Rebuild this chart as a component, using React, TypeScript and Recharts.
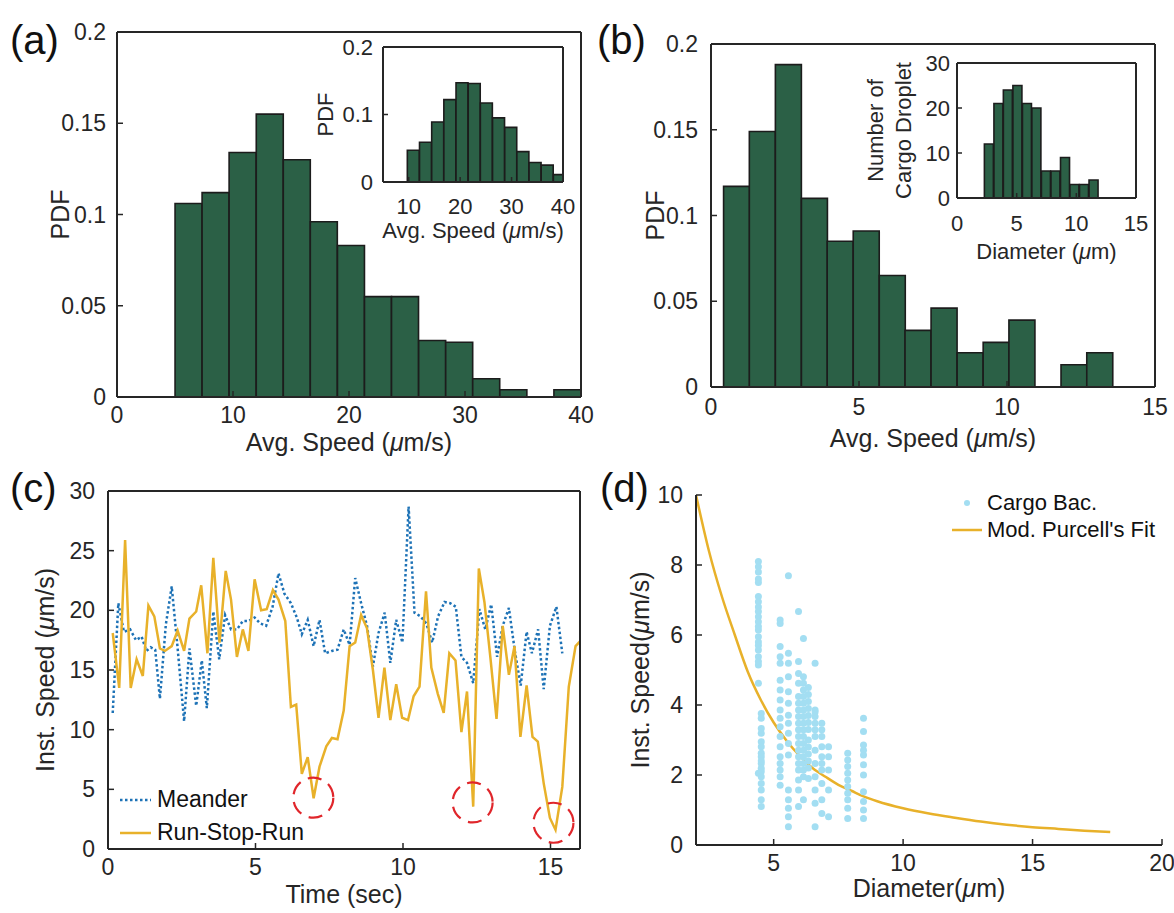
import React from "react";
import {
  BarChart,
  Bar,
  LineChart,
  Line,
  ComposedChart,
  Scatter,
  XAxis,
  YAxis,
  ReferenceDot,
  Legend
} from "recharts";

const FONT = '"Liberation Sans", Arial, Helvetica, sans-serif';
const INK = "#262626";
const BAR_FILL = "#2b6046";
const BAR_EDGE = "#1c1c1c";
const BLUE = "#1d72b6";
const GOLD = "#e8b12a";
const CYAN = "#a3def2";
const RED = "#e0262b";

// (a) avg speed histogram, bin centres + pdf
const speedBinsA = [6.17, 8.5, 10.83, 13.17, 15.5, 17.83, 20.17, 22.5, 24.83, 27.17, 29.5, 31.83, 34.17, 38.83];
const speedPdfA = [0.106, 0.112, 0.134, 0.155, 0.13, 0.096, 0.083, 0.055, 0.055, 0.031, 0.03, 0.01, 0.004, 0.004];

// (a) inset
const insetBinsA = [10.91, 13.28, 15.65, 18.01, 20.38, 22.75, 25.11, 27.48, 29.85, 32.21, 34.58, 36.94, 39.31];
const insetPdfA = [0.047, 0.059, 0.089, 0.122, 0.147, 0.146, 0.117, 0.095, 0.081, 0.045, 0.029, 0.025, 0.011];

// (b) avg speed histogram
const speedBinsB = [0.86, 1.73, 2.61, 3.49, 4.36, 5.24, 6.12, 6.99, 7.87, 8.75, 9.63, 10.5, 12.26, 13.13];
const speedPdfB = [0.117, 0.149, 0.188, 0.11, 0.085, 0.091, 0.065, 0.033, 0.046, 0.02, 0.026, 0.039, 0.013, 0.02];

// (b) inset: droplet diameters
const diamBinsB = [2.69, 3.49, 4.28, 5.08, 5.88, 6.67, 7.47, 8.27, 9.07, 9.86, 10.66, 11.46];
const dropletCountB = [12, 21, 24, 25, 21, 20, 6, 6, 9, 3, 3, 4];

// (c) instantaneous speed traces
const meanderTime = [
  0.16, 0.35, 0.54, 0.75, 0.95, 1.14, 1.3, 1.45, 1.6, 1.76, 1.96, 2.16, 2.35, 2.58, 2.76, 2.99, 3.18, 3.35, 3.57, 3.77,
  3.97, 4.17, 4.37, 4.57, 4.76, 4.97, 5.16, 5.36, 5.58, 5.78, 5.98, 6.2, 6.4, 6.57, 6.77, 6.97, 7.17, 7.36, 7.59, 7.78,
  7.99, 8.19, 8.38, 8.58, 8.78, 8.98, 9.17, 9.38, 9.57, 9.77, 9.98, 10.19, 10.39, 10.59, 10.79, 10.99, 11.19, 11.41,
  11.6, 11.79, 11.98, 12.17, 12.38, 12.59, 12.79, 12.99, 13.19, 13.38, 13.59, 13.79, 13.99, 14.19, 14.37, 14.58, 14.77,
  14.98, 15.2, 15.4
];
const meanderSpeed = [
  11.4, 20.6, 18.2, 18.4, 17.5, 17.8, 16.6, 16.9, 16.7, 12.6, 18.8, 22.0, 17.1, 10.7, 16.8, 12.0, 15.8, 11.8, 19.9, 15.9,
  19.6, 18.4, 18.4, 19.1, 19.1, 19.4, 18.9, 18.7, 20.3, 23.1, 21.4, 20.6, 19.4, 18.0, 19.2, 17.0, 19.2, 16.4, 16.6, 16.7,
  18.4, 17.1, 22.7, 20.6, 18.7, 15.3, 18.1, 19.8, 15.6, 19.2, 17.3, 28.7, 19.8, 19.5, 18.9, 17.3, 19.5, 20.7,
  20.6, 20.3, 16.1, 15.6, 13.9, 20.1, 18.4, 20.5, 16.1, 18.7, 20.2, 16.6, 13.7, 18.2, 16.4, 18.4, 13.4,
  18.7, 20.3, 16.4
];
const rsrTime = [
  0.16, 0.38, 0.58, 0.77, 0.97, 1.18, 1.37, 1.57, 1.76, 1.93, 2.16, 2.36, 2.58, 2.76, 2.99, 3.16, 3.37, 3.57, 3.78, 3.99,
  4.17, 4.37, 4.57, 4.76, 4.97, 5.19, 5.38, 5.59, 5.78, 6.01, 6.2, 6.38, 6.57, 6.77, 6.97, 7.17, 7.4, 7.59, 7.78, 7.99,
  8.19, 8.38, 8.58, 8.78, 8.98, 9.17, 9.37, 9.57, 9.77, 9.97, 10.17, 10.36, 10.56, 10.78, 10.96, 11.18, 11.38, 11.57,
  11.78, 11.98, 12.17, 12.38, 12.57, 12.76, 12.96, 13.17, 13.38, 13.59, 13.78, 13.98, 14.19, 14.39, 14.57, 14.77, 14.98,
  15.17, 15.4, 15.62, 15.85, 16.0
];
const rsrSpeed = [
  18.1, 13.5, 25.9, 13.5, 15.9, 14.5, 20.4, 19.5, 16.8, 16.6, 17.0, 18.3, 16.6, 19.3, 19.9, 22.1, 16.4, 24.4, 17.3, 23.3,
  20.9, 16.1, 18.4, 16.6, 22.6, 20.0, 20.1, 21.7, 20.9, 19.1, 11.9, 12.1, 6.3, 7.7, 4.25, 6.9, 8.6, 9.3, 9.2, 11.6,
  17.0, 17.3, 19.6, 18.5, 15.0, 11.0, 15.2, 10.8, 13.8, 11.0, 10.8, 12.8, 13.6, 21.6, 15.2, 13.0, 11.4, 16.4,
  15.8, 9.8, 13.2, 3.55, 23.5, 20.7, 16.1, 10.9, 18.7, 14.6, 17.0, 9.4, 13.7, 9.4, 9.0, 5.5, 2.6,
  1.6, 5.2, 13.6, 17.0, 17.4
];
// stop events (dashed circles)
const stopTime = [6.96, 12.36, 15.1];
const stopSpeed = [4.3, 3.9, 2.2];

// (d) cargo bacteria: diameter columns and speeds measured in each
const cargoDiameter = [4.41, 4.52, 5.25, 5.57, 5.96, 6.15, 6.34, 6.6, 6.86, 7.12, 7.86, 8.47];
const cargoSpeed = [
  [8.1, 7.95, 7.8, 7.6, 7.5, 7.1, 6.95, 6.8, 6.67, 6.52, 6.38, 6.24, 6.14, 5.95, 5.8, 5.7, 5.57, 5.38, 5.24, 5.14, 4.62, 2.05],
  [3.76, 3.62, 3.33, 3.19, 2.95, 2.81, 2.62, 2.52, 2.33, 2.19, 2.1, 1.95, 1.76, 1.57, 1.29, 1.1, 2.4],
  [6.43, 6.33, 5.67, 5.38, 5.19, 4.71, 4.43, 4.14, 3.86, 3.62, 3.38, 3.1, 2.81, 2.52, 2.33, 2.14, 1.95, 1.71],
  [7.69, 5.48, 5.19, 4.81, 4.38, 4.05, 3.71, 3.48, 3.19, 2.9, 2.57, 1.57, 1.29, 1.05, 0.81, 0.52],
  [6.67, 5.24, 4.9, 4.62, 4.24, 4.05, 3.86, 3.67, 3.48, 3.29, 3.1, 2.9, 2.71, 2.52, 2.33, 2.14, 1.86, 1.57, 1.1],
  [5.9, 4.81, 4.62, 4.43, 4.24, 4.05, 3.86, 3.67, 3.48, 3.29, 3.1, 2.9, 2.71, 2.52, 2.33, 2.14, 1.95, 1.29],
  [4.5, 4.3, 4.1, 3.9, 3.7, 3.5, 3.3, 3.0, 2.8, 2.6, 2.4, 2.2, 1.9],
  [5.19, 3.86, 3.8, 3.67, 3.48, 3.29, 3.1, 2.71, 2.33, 1.95, 1.57, 1.19, 0.52],
  [3.48, 3.29, 3.1, 2.81, 2.52, 2.33, 2.14, 1.76, 1.29, 0.9],
  [2.81, 2.52, 2.14, 1.57, 0.81],
  [2.62, 2.43, 2.24, 2.05, 1.86, 1.67, 1.48, 1.29, 1.05, 0.76],
  [3.62, 3.24, 2.86, 2.71, 2.57, 2.29, 2.0, 1.52, 1.24, 1.0, 0.76]
];
// modified Purcell fit
const fitDiameter = [2, 2.5, 3, 3.5, 4, 4.5, 5, 5.5, 6, 6.5, 7, 7.5, 8, 8.5, 9, 10, 11, 12, 13, 14, 15, 16, 17, 18];
const fitSpeed = [10, 8.4, 7.1, 6.0, 4.95, 4.15, 3.5, 2.98, 2.55, 2.2, 1.95, 1.72, 1.55, 1.38, 1.25, 1.05, 0.9, 0.78, 0.67, 0.58, 0.51, 0.46, 0.41, 0.37];

const histA = speedBinsA.map((x, i) => ({ x, y: speedPdfA[i] }));
const histAInset = insetBinsA.map((x, i) => ({ x, y: insetPdfA[i] }));
const histB = speedBinsB.map((x, i) => ({ x, y: speedPdfB[i] }));
const histBInset = diamBinsB.map((x, i) => ({ x, y: dropletCountB[i] }));
const meanderData = meanderTime.map((t, i) => ({ t, v: meanderSpeed[i] }));
const rsrData = rsrTime.map((t, i) => ({ t, v: rsrSpeed[i] }));
const cargoData = cargoDiameter.flatMap((d, i) => cargoSpeed[i].map((v) => ({ d, v })));
const fitData = fitDiameter.map((d, i) => ({ d, v: fitSpeed[i] }));

const frameLine = { stroke: INK, strokeWidth: 2 };
const tickStroke = { stroke: INK, strokeWidth: 1.5 };

// top / right axes that only close the box and carry inward ticks
function frameAxes(xDomain: number[], xTicks: number[], yDomain: number[], yTicks: number[], size = 6) {
  return [
    <XAxis
      key="top"
      xAxisId="top"
      orientation="top"
      type="number"
      domain={xDomain}
      ticks={xTicks}
      allowDataOverflow
      height={1}
      tick={false}
      tickSize={-size}
      axisLine={frameLine}
      tickLine={tickStroke}
    />,
    <YAxis
      key="right"
      yAxisId="right"
      orientation="right"
      type="number"
      domain={yDomain}
      ticks={yTicks}
      allowDataOverflow
      width={1}
      tick={false}
      tickSize={-size}
      axisLine={frameLine}
      tickLine={tickStroke}
    />
  ];
}

const mainTick = { fontSize: 23, fill: INK, fontFamily: FONT };
const insetTick = { fontSize: 22, fill: INK, fontFamily: FONT };

// axis title with the TeX-style italic mu
function withMu(text: string) {
  const parts = text.split("μ");
  return parts.map((p, i) => (
    <React.Fragment key={i}>
      {i > 0 && <tspan fontStyle="italic">μ</tspan>}
      {p}
    </React.Fragment>
  ));
}

function AxisTitle({ viewBox, labelText, gap, fs, upright }: any) {
  const style = { fontSize: fs, fill: INK, fontFamily: FONT };
  if (upright) {
    const x = viewBox.x + gap;
    const y = viewBox.y + viewBox.height / 2;
    return (
      <text x={x} y={y} transform={`rotate(-90, ${x}, ${y})`} textAnchor="middle" dominantBaseline="central" style={style}>
        {withMu(labelText)}
      </text>
    );
  }
  const x = viewBox.x + viewBox.width / 2;
  const y = viewBox.y + gap + fs * 0.72;
  return (
    <text x={x} y={y} textAnchor="middle" style={style}>
      {withMu(labelText)}
    </text>
  );
}

function CargoYLabel({ viewBox }: any) {
  const cy = viewBox.y + viewBox.height / 2;
  const x1 = viewBox.x + 25;
  const x2 = viewBox.x + 53;
  const style = { fontSize: 22, fill: INK, fontFamily: FONT };
  return (
    <g>
      <text x={x1} y={cy} transform={`rotate(-90, ${x1}, ${cy})`} textAnchor="middle" dominantBaseline="central" style={style}>
        Number of
      </text>
      <text x={x2} y={cy} transform={`rotate(-90, ${x2}, ${cy})`} textAnchor="middle" dominantBaseline="central" style={style}>
        Cargo Droplet
      </text>
    </g>
  );
}

function PanelTag({ text, left, top }: { text: string; left: number; top: number }) {
  return (
    <div style={{ position: "absolute", left, top, fontSize: 40, lineHeight: "40px", fontFamily: FONT, color: "#111" }}>
      {text}
    </div>
  );
}

function LegendC() {
  const row = { display: "flex", alignItems: "center", height: 33 };
  return (
    <div style={{ fontFamily: FONT, fontSize: 23, color: "#111" }}>
      <div style={row}>
        <svg width={34} height={10}>
          <line x1={2} y1={5} x2={33} y2={5} stroke={BLUE} strokeWidth={2.5} strokeDasharray="2.5 2.5" />
        </svg>
        <span style={{ marginLeft: 5 }}>Meander</span>
      </div>
      <div style={row}>
        <svg width={34} height={10}>
          <line x1={2} y1={5} x2={33} y2={5} stroke={GOLD} strokeWidth={2.5} />
        </svg>
        <span style={{ marginLeft: 5 }}>Run-Stop-Run</span>
      </div>
    </div>
  );
}

function LegendD() {
  const row = { display: "flex", alignItems: "center", height: 27 };
  return (
    <div style={{ fontFamily: FONT, fontSize: 22, color: "#111" }}>
      <div style={row}>
        <svg width={32} height={10}>
          <circle cx={15} cy={5} r={3} fill={CYAN} />
        </svg>
        <span style={{ marginLeft: 3 }}>Cargo Bac.</span>
      </div>
      <div style={row}>
        <svg width={32} height={10}>
          <line x1={0} y1={5} x2={30} y2={5} stroke={GOLD} strokeWidth={2.5} />
        </svg>
        <span style={{ marginLeft: 3 }}>Mod. Purcell's Fit</span>
      </div>
    </div>
  );
}

const fmt = (v: number) => String(v);

export default function App() {
  return (
    <div style={{ position: "absolute", left: 0, top: 0, width: 1174, height: 913, background: "#fff", fontFamily: FONT }}>
      {/* (a) */}
      <div style={{ position: "absolute", left: 0, top: 0 }}>
        <BarChart width={600} height={470} data={histA} margin={{ top: 31, right: 18, bottom: 0, left: 0 }} barCategoryGap={0}>
          <XAxis
            dataKey="x"
            type="number"
            domain={[0, 40]}
            ticks={[0, 10, 20, 30, 40]}
            allowDataOverflow
            height={73}
            tick={mainTick}
            tickSize={-6}
            tickMargin={16}
            axisLine={frameLine}
            tickLine={tickStroke}
            label={{ content: <AxisTitle labelText="Avg. Speed (μm/s)" gap={36} fs={25} /> }}
          />
          <YAxis
            type="number"
            domain={[0, 0.2]}
            ticks={[0, 0.05, 0.1, 0.15, 0.2]}
            allowDataOverflow
            width={117}
            tick={mainTick}
            tickFormatter={fmt}
            tickSize={-6}
            tickMargin={17}
            axisLine={frameLine}
            tickLine={tickStroke}
            label={{ content: <AxisTitle labelText="PDF" gap={60} fs={25} upright /> }}
          />
          {frameAxes([0, 40], [0, 10, 20, 30, 40], [0, 0.2], [0, 0.05, 0.1, 0.15, 0.2])}
          <Bar dataKey="y" fill={BAR_FILL} stroke={BAR_EDGE} strokeWidth={1.6} isAnimationActive={false} />
        </BarChart>
      </div>
      <div style={{ position: "absolute", left: 290, top: 20 }}>
        <BarChart width={290} height={230} data={histAInset} margin={{ top: 26, right: 16, bottom: 0, left: 0 }} barCategoryGap={0}>
          <XAxis
            dataKey="x"
            type="number"
            domain={[5, 40]}
            ticks={[10, 20, 30, 40]}
            allowDataOverflow
            height={68}
            tick={insetTick}
            tickSize={-5}
            tickMargin={21}
            axisLine={frameLine}
            tickLine={tickStroke}
            label={{ content: <AxisTitle labelText="Avg. Speed (μm/s)" gap={40} fs={22} /> }}
          />
          <YAxis
            type="number"
            domain={[0, 0.2]}
            ticks={[0, 0.1, 0.2]}
            allowDataOverflow
            width={93}
            tick={insetTick}
            tickFormatter={fmt}
            tickSize={-5}
            tickMargin={15}
            axisLine={frameLine}
            tickLine={tickStroke}
            label={{ content: <AxisTitle labelText="PDF" gap={35} fs={22} upright /> }}
          />
          {frameAxes([5, 40], [10, 20, 30, 40], [0, 0.2], [0, 0.1, 0.2], 5)}
          <Bar dataKey="y" fill={BAR_FILL} stroke={BAR_EDGE} strokeWidth={1.6} isAnimationActive={false} />
        </BarChart>
      </div>

      {/* (b) */}
      <div style={{ position: "absolute", left: 590, top: 0 }}>
        <BarChart width={584} height={470} data={histB} margin={{ top: 43, right: 18, bottom: 0, left: 0 }} barCategoryGap={0}>
          <XAxis
            dataKey="x"
            type="number"
            domain={[0, 15]}
            ticks={[0, 5, 10, 15]}
            allowDataOverflow
            height={83}
            tick={mainTick}
            tickSize={-6}
            tickMargin={18}
            axisLine={frameLine}
            tickLine={tickStroke}
            label={{ content: <AxisTitle labelText="Avg. Speed (μm/s)" gap={42} fs={25} /> }}
          />
          <YAxis
            type="number"
            domain={[0, 0.2]}
            ticks={[0, 0.05, 0.1, 0.15, 0.2]}
            allowDataOverflow
            width={121}
            tick={mainTick}
            tickFormatter={fmt}
            tickSize={-6}
            tickMargin={19}
            axisLine={frameLine}
            tickLine={tickStroke}
            label={{ content: <AxisTitle labelText="PDF" gap={65} fs={25} upright /> }}
          />
          {frameAxes([0, 15], [0, 5, 10, 15], [0, 0.2], [0, 0.05, 0.1, 0.15, 0.2])}
          <Bar dataKey="y" fill={BAR_FILL} stroke={BAR_EDGE} strokeWidth={1.6} isAnimationActive={false} />
        </BarChart>
      </div>
      <div style={{ position: "absolute", left: 850, top: 40 }}>
        <BarChart width={310} height={240} data={histBInset} margin={{ top: 22, right: 23, bottom: 0, left: 0 }} barCategoryGap={0}>
          <XAxis
            dataKey="x"
            type="number"
            domain={[0, 15]}
            ticks={[0, 5, 10, 15]}
            allowDataOverflow
            height={82}
            tick={insetTick}
            tickSize={-5}
            tickMargin={22}
            axisLine={frameLine}
            tickLine={tickStroke}
            label={{ content: <AxisTitle labelText="Diameter (μm)" gap={45} fs={22} /> }}
          />
          <YAxis
            type="number"
            domain={[0, 30]}
            ticks={[0, 10, 20, 30]}
            allowDataOverflow
            width={107}
            tick={insetTick}
            tickSize={-5}
            tickMargin={12}
            axisLine={frameLine}
            tickLine={tickStroke}
            label={{ content: <CargoYLabel /> }}
          />
          {frameAxes([0, 15], [0, 5, 10, 15], [0, 30], [0, 10, 20, 30], 5)}
          <Bar dataKey="y" fill={BAR_FILL} stroke={BAR_EDGE} strokeWidth={1.6} isAnimationActive={false} />
        </BarChart>
      </div>

      {/* (c) */}
      <div style={{ position: "absolute", left: 0, top: 460 }}>
        <LineChart width={600} height={453} margin={{ top: 30, right: 19, bottom: 0, left: 0 }}>
          <XAxis
            dataKey="t"
            type="number"
            domain={[0, 16]}
            ticks={[0, 5, 10, 15]}
            allowDataOverflow
            height={64}
            tick={mainTick}
            tickSize={-6}
            tickMargin={16}
            axisLine={frameLine}
            tickLine={tickStroke}
            label={{ content: <AxisTitle labelText="Time (sec)" gap={36} fs={25} /> }}
          />
          <YAxis
            dataKey="v"
            type="number"
            domain={[0, 30]}
            ticks={[0, 5, 10, 15, 20, 25, 30]}
            allowDataOverflow
            width={108}
            tick={mainTick}
            tickSize={-6}
            tickMargin={19}
            axisLine={frameLine}
            tickLine={tickStroke}
            label={{ content: <AxisTitle labelText="Inst. Speed (μm/s)" gap={45} fs={25} upright /> }}
          />
          {frameAxes([0, 16], [0, 5, 10, 15], [0, 30], [0, 5, 10, 15, 20, 25, 30])}
          <Line data={meanderData} dataKey="v" type="linear" stroke={BLUE} strokeWidth={2.5} strokeDasharray="2.5 2.5" dot={false} isAnimationActive={false} />
          <Line data={rsrData} dataKey="v" type="linear" stroke={GOLD} strokeWidth={2.5} dot={false} isAnimationActive={false} />
          {stopTime.map((t, i) => (
            <ReferenceDot
              key={i}
              x={t}
              y={stopSpeed[i]}
              r={20}
              fill="none"
              stroke={RED}
              strokeWidth={2.2}
              strokeDasharray="14 8"
              ifOverflow="visible"
            />
          ))}
          <Legend
            layout="vertical"
            align="center"
            verticalAlign="middle"
            content={<LegendC />}
            wrapperStyle={{ left: 118, top: 323, width: 200 }}
          />
        </LineChart>
      </div>

      {/* (d) */}
      <div style={{ position: "absolute", left: 590, top: 460 }}>
        <ComposedChart width={584} height={453} margin={{ top: 35, right: 12, bottom: 0, left: 0 }}>
          <XAxis
            dataKey="d"
            type="number"
            domain={[2, 20]}
            ticks={[5, 10, 15, 20]}
            allowDataOverflow
            height={68}
            tick={mainTick}
            tickSize={-6}
            tickMargin={16}
            axisLine={frameLine}
            tickLine={tickStroke}
            label={{ content: <AxisTitle labelText="Diameter(μm)" gap={34} fs={25} /> }}
          />
          <YAxis
            dataKey="v"
            type="number"
            domain={[0, 10]}
            ticks={[0, 2, 4, 6, 8, 10]}
            allowDataOverflow
            width={106}
            tick={mainTick}
            tickSize={-6}
            tickMargin={19}
            axisLine={frameLine}
            tickLine={tickStroke}
            label={{ content: <AxisTitle labelText="Inst. Speed(μm/s)" gap={50} fs={25} upright /> }}
          />
          <Scatter
            data={cargoData}
            dataKey="v"
            fill={CYAN}
            isAnimationActive={false}
            shape={(p: any) => <circle cx={p.cx} cy={p.cy} r={3.5} fill={CYAN} />}
          />
          <Line data={fitData} dataKey="v" type="monotone" stroke={GOLD} strokeWidth={2.5} dot={false} isAnimationActive={false} />
          <Legend
            layout="vertical"
            align="center"
            verticalAlign="middle"
            content={<LegendD />}
            wrapperStyle={{ left: 362, top: 29, width: 220 }}
          />
        </ComposedChart>
      </div>

      <PanelTag text="(a)" left={10} top={20} />
      <PanelTag text="(b)" left={597} top={20} />
      <PanelTag text="(c)" left={10} top={468} />
      <PanelTag text="(d)" left={600} top={468} />
    </div>
  );
}
